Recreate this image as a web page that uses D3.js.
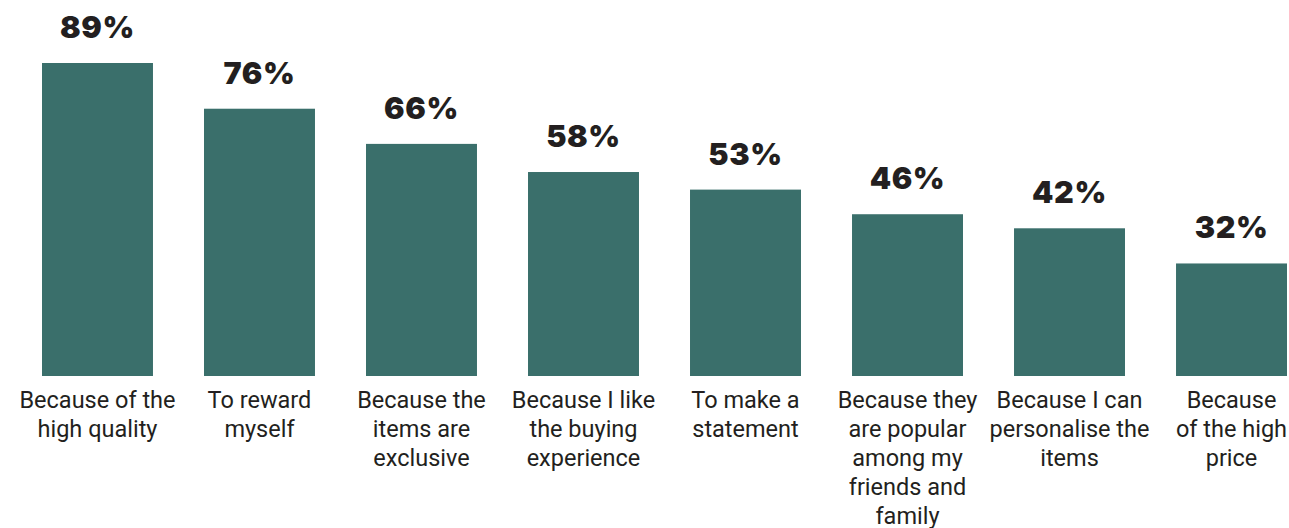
<!DOCTYPE html>
<html>
<head>
    <title></title>
    <script src="https://d3js.org/d3.v7.min.js"></script>
    <style type="text/css">
        html, body {
            margin: 0;
            padding: 0;
            background: #fff;
        }
    </style>
</head>
<body>

    <svg id="main"></svg>

    <script>
      // data
      const categories = [
        ["Because of the", "high quality"],
        ["To reward", "myself"],
        ["Because the", "items are", "exclusive"],
        ["Because I like", "the buying", "experience"],
        ["To make a", "statement"],
        ["Because they", "are popular", "among my", "friends and", "family"],
        ["Because I can", "personalise the", "items"],
        ["Because", "of the high", "price"]
      ];
      const values = [89, 76, 66, 58, 53, 46, 42, 32];
      const valueLabels = ["89%", "76%", "66%", "58%", "53%", "46%", "42%", "32%"];

      // settings
      const width  = 1289;
      const height = 528;
      const BASE_Y = 376;
      const BAR_COLOR = "#3a6f6b";
      const TEXT_COLOR = "#231f20";

      const data = values.map((v, i) => ({ i: i, value: v, label: valueLabels[i], lines: categories[i] }));

      const svg = d3.select("#main")
        .attr("width", width)
        .attr("height", height);

      const x = d3.scaleBand()
        .domain(d3.range(values.length))
        .range([42, 1287])
        .paddingInner(0.315)
        .paddingOuter(0);

      const y = d3.scaleLinear()
        .domain([0, 100])
        .range([BASE_Y, BASE_Y - 313 * 100 / 89]);

      const g = svg.append("g");

      // bars
      g.selectAll("rect")
        .data(data)
        .enter()
        .append("rect")
        .attr("x", d => x(d.i))
        .attr("y", d => y(d.value))
        .attr("width", x.bandwidth())
        .attr("height", d => y(0) - y(d.value))
        .attr("fill", BAR_COLOR);

      // value labels
      g.selectAll("text.value")
        .data(data)
        .enter()
        .append("text")
        .attr("class", "value")
        .attr("x", d => x(d.i) + x.bandwidth() / 2)
        .attr("y", d => y(d.value) - 25)
        .attr("text-anchor", "middle")
        .style("font-family", "Inter, 'Open Sans', sans-serif")
        .style("font-weight", 900)
        .style("font-size", "30.5px")
        .style("letter-spacing", "0.6px")
        .style("fill", TEXT_COLOR)
        .text(d => d.label);

      // category labels
      const cat = g.selectAll("text.cat")
        .data(data)
        .enter()
        .append("text")
        .attr("class", "cat")
        .attr("x", d => x(d.i) + x.bandwidth() / 2)
        .attr("y", 407.5)
        .attr("text-anchor", "middle")
        .style("font-family", "Roboto, sans-serif")
        .style("font-size", "23.5px")
        .style("fill", TEXT_COLOR);

      cat.selectAll("tspan")
        .data(d => d.lines.map(l => ({ text: l, cx: x(d.i) + x.bandwidth() / 2 })))
        .enter()
        .append("tspan")
        .attr("x", d => d.cx)
        .attr("dy", (d, i) => i === 0 ? 0 : 29)
        .text(d => d.text);
    </script>

</body>
</html>
